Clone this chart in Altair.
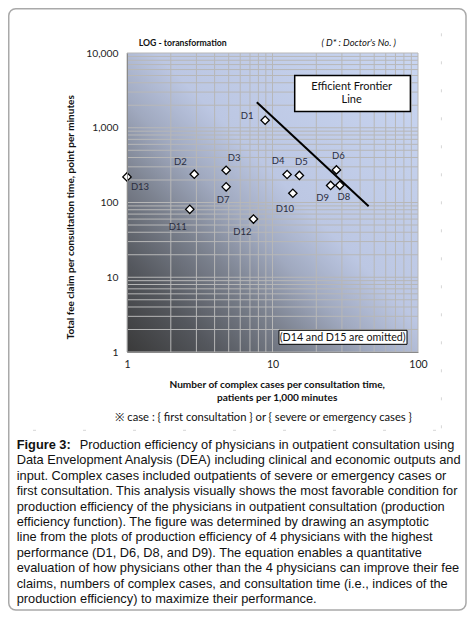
import altair as alt
import pandas as pd

# ---------------- data ----------------
doctors = ["D1", "D2", "D3", "D4", "D5", "D6", "D7", "D8", "D9", "D10", "D11", "D12", "D13"]
complex_cases = [8.9, 2.9, 4.8, 12.6, 15.3, 27.5, 4.8, 29.0, 25.1, 13.8, 2.7, 7.4, 1.0]
fee_claim = [1260, 239, 270, 237, 230, 273, 162, 170, 169, 133, 81, 60, 220]

frontier_x = [7.8, 45.8]
frontier_y = [2190, 89]

x_ticks = [1, 10, 100]
y_ticks = [1, 10, 100, 1000, 10000]
grid_x = [1, 2, 3, 4, 5, 6, 7, 8, 9, 10, 20, 30, 40, 50, 60, 70, 80, 90, 100]
grid_y = [1, 2, 3, 4, 5, 6, 7, 8, 9, 10, 20, 30, 40, 50, 60, 70, 80, 90, 100,
          200, 300, 400, 500, 600, 700, 800, 900, 1000,
          2000, 3000, 4000, 5000, 6000, 7000, 8000, 9000, 10000]

# label placement (pixel offsets, styling only)
label_offsets = {
    "D1": (-18, -4), "D2": (-14, -12), "D3": (8, -12), "D4": (-9, -13),
    "D5": (2, -13), "D6": (2, -14), "D7": (-3, 13), "D8": (4, 12),
    "D9": (-8, 13), "D10": (-8, 16), "D11": (-12, 18), "D12": (-11, 13),
    "D13": (13, 10),
}

caption_first = "Production efficiency of physicians in outpatient consultation using"
caption_rest = [
    "Data Envelopment Analysis (DEA) including clinical and economic outputs and",
    "input. Complex cases included outpatients of severe or emergency cases or",
    "first consultation. This analysis visually shows the most favorable condition for",
    "production efficiency of the physicians in outpatient consultation (production",
    "efficiency function). The figure was determined by drawing an asymptotic",
    "line from the plots of production efficiency of 4 physicians with the highest",
    "performance (D1, D6, D8, and D9). The equation enables a quantitative",
    "evaluation of how physicians other than the 4 physicians can improve their fee",
    "claims, numbers of complex cases, and consultation time (i.e., indices of the",
    "production efficiency) to maximize their performance.",
]

W, H = 291, 299
FONT = "Lato"
CAP_FONT = "Liberation Sans"
CAP_SIZE = 12.8

pts = pd.DataFrame({"doc": doctors, "x": complex_cases, "y": fee_claim})
front = pd.DataFrame({"x": frontier_x, "y": frontier_y})

xscale = alt.Scale(type="log", domain=[1, 100], nice=False)
yscale = alt.Scale(type="log", domain=[1, 10000], nice=False)

x_axis = alt.Axis(values=x_ticks, format=",", grid=False, ticks=False, labelPadding=7,
                  labelFont=FONT, labelFontSize=10.5, labelColor="#222222",
                  domainColor="#8a8a8a", labelFlush=False, labelOverlap=False,
                  title=None, zindex=1)
y_axis = alt.Axis(values=y_ticks, format=",", grid=False, ticks=False, labelPadding=9,
                  labelFont=FONT, labelFontSize=10.3, labelColor="#222222",
                  domainColor="#8a8a8a", labelOverlap=False, title=None, zindex=1)

one = alt.Data(values=[{"t": ""}])

background = alt.Chart(one).mark_rect(
    fill={
        "gradient": "linear", "x1": 0, "y1": 1, "x2": 1, "y2": 0,
        "stops": [
            {"offset": 0.0, "color": "#3a3a3a"},
            {"offset": 0.15, "color": "#54575d"},
            {"offset": 0.30, "color": "#7b818e"},
            {"offset": 0.42, "color": "#a0a9bf"},
            {"offset": 0.55, "color": "#bcc7e3"},
            {"offset": 1.0, "color": "#c9d6f2"},
        ],
    }
).encode(x=alt.value(0), x2=alt.value(W), y=alt.value(0), y2=alt.value(H))

gx = alt.Chart(pd.DataFrame({"x": grid_x})).mark_rule(color="#b7b7b7", strokeWidth=1).encode(
    x=alt.X("x:Q", scale=xscale, axis=x_axis))
gy = alt.Chart(pd.DataFrame({"y": grid_y})).mark_rule(color="#b7b7b7", strokeWidth=1).encode(
    y=alt.Y("y:Q", scale=yscale, axis=y_axis))

line = alt.Chart(front).mark_line(color="black", strokeWidth=2).encode(
    x=alt.X("x:Q", scale=xscale), y=alt.Y("y:Q", scale=yscale))

points = alt.Chart(pts).mark_point(shape="diamond", filled=True, fill="white", stroke="black",
                                   strokeWidth=1.3, size=70, opacity=1).encode(
    x=alt.X("x:Q", scale=xscale), y=alt.Y("y:Q", scale=yscale))

labels = []
for d in doctors:
    dx, dy = label_offsets[d]
    labels.append(
        alt.Chart(pts).transform_filter(alt.datum.doc == d).mark_text(
            font=FONT, fontSize=9.5, color="#2a2d3f", dx=dx, dy=dy
        ).encode(x=alt.X("x:Q", scale=xscale), y=alt.Y("y:Q", scale=yscale), text="doc:N")
    )


def note(text, x, y, **kw):
    return alt.Chart(alt.Data(values=[{"t": text}])).mark_text(**kw).encode(
        x=alt.value(x), y=alt.value(y), text="t:N")


def box(x1, y1, x2, y2, **kw):
    return alt.Chart(one).mark_rect(**kw).encode(
        x=alt.value(x1), x2=alt.value(x2), y=alt.value(y1), y2=alt.value(y2))


notes = [
    box(167.7, 22.6, 283.4, 58.6, fill="white", stroke="black", strokeWidth=1.5),
    note("Efficient Frontier", 224.7, 33.6, font=FONT, fontSize=11, color="#111", baseline="middle"),
    note("Line", 224.7, 47.3, font=FONT, fontSize=11, color="#111", baseline="middle"),
    box(152, 277.3, 280, 291.3, fill="white", stroke="black", strokeWidth=1),
    note("(D14 and D15 are omitted)", 215.7, 284.6, font=FONT, fontSize=10.7, color="#111",
         baseline="middle"),
    note("LOG - toransformation", 11.7, -10, font=FONT, fontSize=8.7, fontWeight="bold",
         color="#111", align="left", baseline="middle"),
    note("( D* : Doctor's No. )", 194.4, -10, font=FONT, fontSize=9.4, fontStyle="italic",
         color="#111", align="left", baseline="middle"),
    note("Total fee claim per consultation time, point per minutes", -56.3, 164.3, font=FONT,
         fontSize=10, fontWeight="bold", color="#111", angle=270, baseline="middle"),
    note("Number of complex cases per consultation time,", 150.2, 332.3, font=FONT, fontSize=10.1,
         fontWeight="bold", color="#111", baseline="middle"),
    note("patients per 1,000 minutes", 150.2, 345, font=FONT, fontSize=10.1,
         fontWeight="bold", color="#111", baseline="middle"),
    note("\u203b case : { first consultation } or { severe or emergency cases }", 136.7, 365,
         font=FONT, fontSize=11.2, color="#111", baseline="middle"),
    note("Figure 3:", -110.3, 395.6, font=CAP_FONT, fontSize=CAP_SIZE, fontWeight="bold",
         color="#111", align="left", baseline="alphabetic"),
    note(caption_first, -47.3, 395.6, font=CAP_FONT, fontSize=CAP_SIZE,
         color="#111", align="left", baseline="alphabetic"),
    note("\n".join(caption_rest), -110.3, 411.1, font=CAP_FONT, fontSize=CAP_SIZE,
         color="#111", align="left", baseline="alphabetic", lineBreak="\n", lineHeight=15.47),
    alt.Chart(one).mark_rule(color="#d6d6d6", strokeDash=[3, 47], strokeWidth=1).encode(
        x=alt.value(-94), x2=alt.value(314.4), y=alt.value(377.3)),
    alt.Chart(one).mark_rule(color="#d6d6d6", strokeDash=[3, 25], strokeWidth=1).encode(
        x=alt.value(314.4), y=alt.value(-19.7), y2=alt.value(377.3)),
    alt.Chart(one).mark_rect(fillOpacity=0, stroke="#a9a9a9", strokeWidth=1.5,
                             cornerRadius=7).encode(
        x=alt.value(-118.25), x2=alt.value(339), y=alt.value(-44.25), y2=alt.value(557)),
]

chart = alt.layer(background, gx, gy, line, points, *labels, *notes).properties(
    width=W, height=H,
    autosize=alt.AutoSizeParams(type="none"),
    padding={"left": 119, "top": 45, "right": 49, "bottom": 259},
).configure_view(stroke=None)

chart.save("out.html", embed_options={"renderer": "svg", "actions": False})
